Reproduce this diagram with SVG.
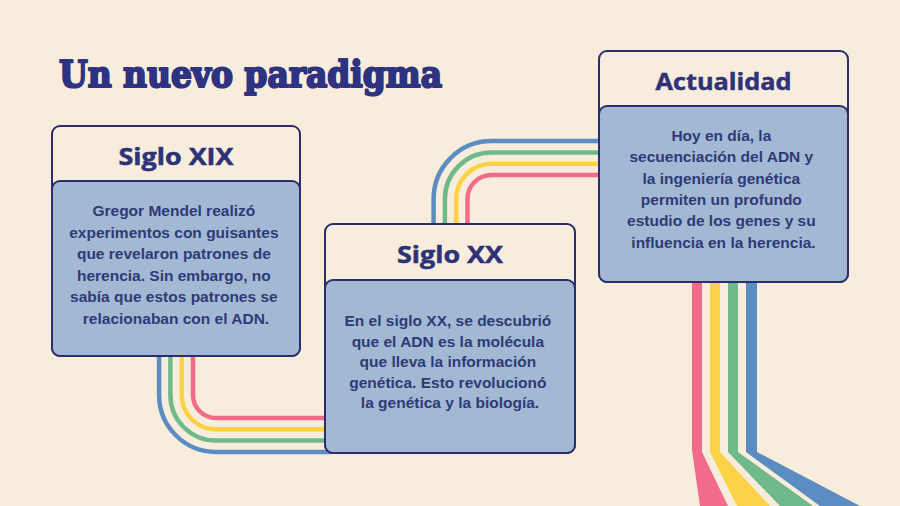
<svg xmlns="http://www.w3.org/2000/svg" width="900" height="506" viewBox="0 0 900 506">
  <defs>
    <style>
      .bg { fill: #F8EDDC; }
      .card-head { fill: #F8EDDC; stroke: #2B2D6E; stroke-width: 2; }
      .card-body { fill: #A3B9D3; stroke: #2B2D6E; stroke-width: 2; }
      .head { font-family: "Open Sans", "Noto Sans", sans-serif; font-weight: 700; font-size: 24px; fill: #2E3378; stroke: #2E3378; stroke-width: 0.5; text-anchor: middle; }
      .body { font-family: "Liberation Sans", Arial, sans-serif; font-weight: 700; font-size: 15.5px; fill: #2E3A78; text-anchor: middle; }
      .title { font-family: "DejaVu Serif", "Liberation Serif", serif; font-weight: 700; font-size: 37px; fill: #2D3381; stroke: #2D3381; stroke-width: 2.2; stroke-linejoin: round; }
      .ln { fill: none; stroke-width: 4.5; }
      .pink { stroke: #F26B8A; }
      .yellow { stroke: #FBD245; }
      .green { stroke: #6FB98A; }
      .blue { stroke: #5B8DC3; }
    </style>
  </defs>
  <rect class="bg" x="0" y="0" width="900" height="506"/>

  <g id="rainbow-tail">
    <polygon points="692,282 702,282 702,452 728,506 700,506 692,450" fill="#F26B8A"/>
    <polygon points="710,282 720,282 720,452 770,506 737,506 710,452" fill="#FBD245"/>
    <polygon points="728,282 738,282 738,452 813,506 780,506 728,452" fill="#6FB98A"/>
    <polygon points="746,282 757,282 757,452 860,506 820,506 746,452" fill="#5B8DC3"/>
  </g>

  <g id="connectors">
    <path class="ln pink" d="M193,350 V395 A23,23 0 0 0 216,418 H332"/>
    <path class="ln yellow" d="M181.7,350 V395 A34.3,34.3 0 0 0 216,429.3 H332"/>
    <path class="ln green" d="M170.4,350 V395 A45.6,45.6 0 0 0 216,440.6 H332"/>
    <path class="ln blue" d="M159.1,350 V395 A56.9,56.9 0 0 0 216,451.9 H332"/>

    <path class="ln pink" d="M467.5,232 V199 A24,24 0 0 1 491.5,175 H606"/>
    <path class="ln yellow" d="M456.2,232 V199 A35.3,35.3 0 0 1 491.5,163.7 H606"/>
    <path class="ln green" d="M444.9,232 V199 A46.6,46.6 0 0 1 491.5,152.4 H606"/>
    <path class="ln blue" d="M433.6,232 V199 A57.9,57.9 0 0 1 491.5,141.1 H606"/>
  </g>

  <text id="title" class="title" x="59" y="87" textLength="383" lengthAdjust="spacingAndGlyphs">Un nuevo paradigma</text>

  <g id="siglo-xix">
    <rect class="card-head" x="52" y="126" width="248" height="230" rx="8"/>
    <rect class="card-body" x="52" y="181" width="248" height="175" rx="8"/>
    <text class="head" x="176" y="165" textLength="115" lengthAdjust="spacingAndGlyphs">Siglo XIX</text>
    <text class="body">
      <tspan x="176" y="216">Gregor Mendel realizó</tspan>
      <tspan x="176" y="237.6">experimentos con guisantes</tspan>
      <tspan x="176" y="259.2">que revelaron patrones de</tspan>
      <tspan x="176" y="280.8">herencia. Sin embargo, no</tspan>
      <tspan x="176" y="302.4">sabía que estos patrones se</tspan>
      <tspan x="176" y="324">relacionaban con el ADN.</tspan>
    </text>
  </g>

  <g id="siglo-xx">
    <rect class="card-head" x="325" y="224" width="250" height="229" rx="8"/>
    <rect class="card-body" x="325" y="280" width="250" height="173" rx="8"/>
    <text class="head" x="450" y="263" textLength="106" lengthAdjust="spacingAndGlyphs">Siglo XX</text>
    <text class="body">
      <tspan x="450" y="326">En el siglo XX, se descubrió</tspan>
      <tspan x="450" y="346.5">que el ADN es la molécula</tspan>
      <tspan x="450" y="367">que lleva la información</tspan>
      <tspan x="450" y="387.5">genética. Esto revolucionó</tspan>
      <tspan x="450" y="408">la genética y la biología.</tspan>
    </text>
  </g>

  <g id="actualidad">
    <rect class="card-head" x="599" y="51" width="249" height="231" rx="8"/>
    <rect class="card-body" x="599" y="106" width="249" height="176" rx="8"/>
    <text class="head" x="723.5" y="90" textLength="136" lengthAdjust="spacingAndGlyphs">Actualidad</text>
    <text class="body">
      <tspan x="723.5" y="141">Hoy en día, la</tspan>
      <tspan x="723.5" y="162.3">secuenciación del ADN y</tspan>
      <tspan x="723.5" y="183.6">la ingeniería genética</tspan>
      <tspan x="723.5" y="204.9">permiten un profundo</tspan>
      <tspan x="723.5" y="226.2">estudio de los genes y su</tspan>
      <tspan x="723.5" y="247.5">influencia en la herencia.</tspan>
    </text>
  </g>
</svg>
